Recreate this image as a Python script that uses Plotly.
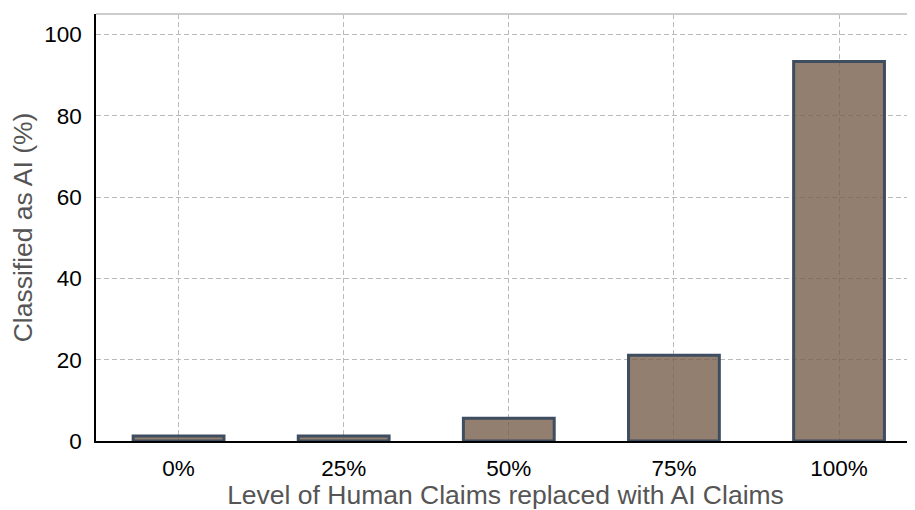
import plotly.graph_objects as go

categories = ["0%", "25%", "50%", "75%", "100%"]
values = [1.2, 1.2, 5.6, 21.1, 93.3]
y_ticks = [0, 20, 40, 60, 80, 100]

fig = go.Figure()
fig.add_trace(go.Bar(
    x=categories, y=values, width=0.55,
    marker=dict(color="rgba(120,95,75,0.8)",
                line=dict(color="#3f4d60", width=3)),
))

fig.update_layout(
    width=907, height=502,
    margin=dict(l=88, r=0, t=6, b=69),
    paper_bgcolor="white", plot_bgcolor="white",
    font=dict(family="Liberation Sans, Arial, sans-serif", color="black", size=22),
    showlegend=False,
)
fig.update_xaxes(
    type="category", range=[-0.5, 4.46], automargin=False,
    showgrid=True, gridcolor="#bbbbbb", griddash="5px,3px", gridwidth=1.3,
    showline=True, linecolor="black", linewidth=1.5,
    ticks="", ticklabelstandoff=6,
    tickfont=dict(size=22.5, color="black"),
    title=dict(text="Level of Human Claims replaced with AI Claims",
               font=dict(size=26.5, color="#555555"), standoff=4),
)
fig.update_yaxes(
    range=[0, 105], tickvals=y_ticks, automargin=False,
    showgrid=True, gridcolor="#bbbbbb", griddash="5px,3px", gridwidth=1.3,
    showline=True, linecolor="black", linewidth=1.5,
    ticks="", ticklabelstandoff=8, zeroline=False,
    tickfont=dict(size=22.5, color="black"),
    title=dict(text="Classified as AI (%)",
               font=dict(size=26.5, color="#555555"), standoff=4),
)
fig.add_shape(type="line", xref="paper", yref="paper", x0=0, x1=1, y0=1, y1=1,
              line=dict(color="#cccccc", width=2))

fig.write_html("out.html")
